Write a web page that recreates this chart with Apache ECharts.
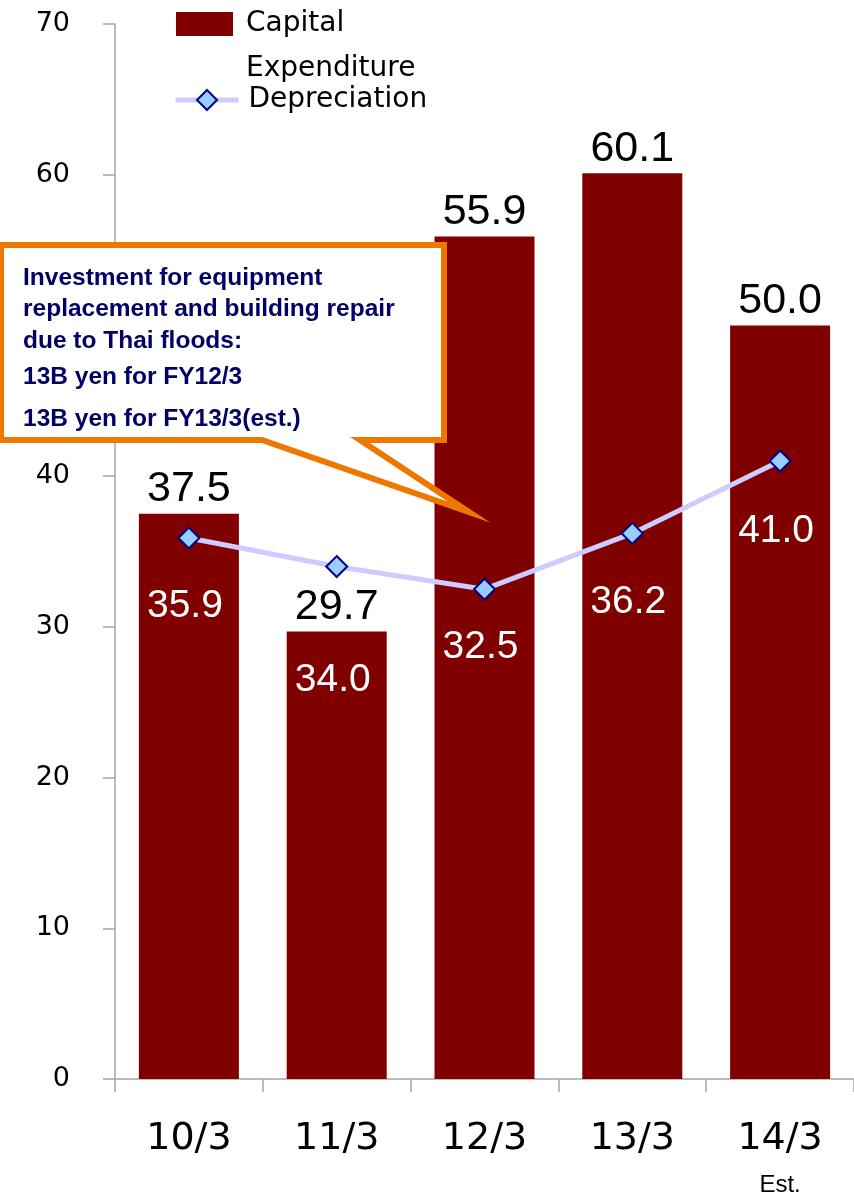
<!DOCTYPE html>
<html>
<head>
<meta charset="utf-8">
<script src="https://cdn.jsdelivr.net/npm/echarts@6/dist/echarts.min.js"></script>
<style>
html,body{margin:0;padding:0;background:#fff;}
#chart{width:854px;height:1197px;}
</style>
</head>
<body>
<div id="chart"></div>
<script>
// ---- data ----
const categories = ['10/3', '11/3', '12/3', '13/3', '14/3'];
const categoryNotes = ['', '', '', '', 'Est.'];
const capitalExpenditure = [37.5, 29.7, 55.9, 60.1, 50.0];
const depreciation = [35.9, 34.0, 32.5, 36.2, 41.0];
const yTicks = { min: 0, max: 70, interval: 10 };
const seriesNames = ['Capital Expenditure', 'Depreciation'];
const legendLabels = ['Capital\nExpenditure', 'Depreciation'];
const calloutLines = [
  'Investment for equipment',
  'replacement and building repair',
  'due to Thai floods:',
  '13B yen for FY12/3',
  '13B yen for FY13/3(est.)'
];

// ---- styling (not data) ----
const deprLabelOffsetY = [68, 114, 58, 69, 70];

const chart = echarts.init(document.getElementById('chart'), null, { renderer: 'canvas' });

const option = {
  backgroundColor: '#ffffff',
  animation: false,
  grid: { left: 115, right: -6, top: 24, bottom: 118 },
  legend: [
    {
      data: [seriesNames[0]],
      left: 176,
      top: -43.5,
      padding: 0,
      icon: 'rect',
      itemWidth: 57,
      itemHeight: 24,
      formatter: function () { return '\n' + legendLabels[0]; },
      textStyle: {
        fontFamily: 'DejaVu Sans',
        fontSize: 28,
        color: '#000',
        lineHeight: 45,
        padding: [0, 0, 0, 8]
      },
      selectedMode: false
    },
    {
      data: [seriesNames[1]],
      left: 173,
      top: 86,
      padding: 0,
      itemWidth: 63,
      itemHeight: 25,
      lineStyle: { width: 5 },
      formatter: function () { return legendLabels[1]; },
      textStyle: {
        fontFamily: 'DejaVu Sans',
        fontSize: 28,
        color: '#000',
        padding: [0, 0, 0, 5]
      },
      selectedMode: false
    }
  ],
  xAxis: {
    type: 'category',
    data: categories,
    boundaryGap: true,
    axisLine: { show: true, lineStyle: { color: '#a6a6a6', width: 1.5 } },
    axisTick: { show: true, length: 13, inside: false, lineStyle: { color: '#a6a6a6', width: 1.5 } },
    axisLabel: {
      margin: 38,
      interval: 0,
      formatter: function (value, idx) {
        const note = categoryNotes[idx];
        return note ? '{a|' + value + '}\n{b|' + note + '}' : '{a|' + value + '}';
      },
      rich: {
        a: { fontFamily: 'DejaVu Sans', fontSize: 38, lineHeight: 44, color: '#000' },
        b: { fontFamily: 'Liberation Sans', fontSize: 24, lineHeight: 48, color: '#000' }
      }
    },
    splitLine: { show: false }
  },
  yAxis: {
    type: 'value',
    min: yTicks.min,
    max: yTicks.max,
    interval: yTicks.interval,
    axisLine: { show: true, lineStyle: { color: '#a6a6a6', width: 1.5 } },
    axisTick: { show: true, length: 12, inside: false, lineStyle: { color: '#a6a6a6', width: 1.5 } },
    axisLabel: { margin: 45, fontFamily: 'DejaVu Sans', fontSize: 27, color: '#000' },
    splitLine: { show: false }
  },
  series: [
    {
      name: seriesNames[0],
      type: 'bar',
      data: capitalExpenditure,
      barWidth: 100,
      itemStyle: { color: '#800000' },
      label: {
        show: true,
        position: 'top',
        distance: 3,
        fontFamily: 'Liberation Sans',
        fontSize: 43,
        color: '#000',
        formatter: function (p) { return p.value.toFixed(1); }
      },
      z: 2
    },
    {
      name: seriesNames[1],
      type: 'line',
      data: depreciation.map(function (v, i) {
        return { value: v, label: { offset: [-4, deprLabelOffsetY[i]] } };
      }),
      symbol: 'diamond',
      symbolSize: 21,
      lineStyle: { color: '#ccccff', width: 5 },
      itemStyle: { color: '#99ccff', borderColor: '#000080', borderWidth: 2 },
      label: {
        show: true,
        position: 'inside',
        fontFamily: 'Liberation Sans',
        fontSize: 39,
        color: '#ffffff',
        formatter: function (p) { return p.value.toFixed(1); }
      },
      z: 3
    }
  ],
  graphic: [
    {
      type: 'polygon',
      z: 100,
      shape: {
        points: [[1, 245], [444, 245], [444, 440], [360, 440], [469, 512], [262, 440], [1, 440]]
      },
      style: { fill: '#ffffff', stroke: '#ee7700', lineWidth: 6, lineJoin: 'miter', miterLimit: 20 }
    },
    {
      type: 'text',
      z: 101,
      x: 23,
      y: 262,
      style: {
        text: calloutLines.map(function (t, i) { return (i < 3 ? '{p|' : '{q|') + t + '}'; }).join('\n'),
        fill: '#000066',
        rich: {
          p: { fontFamily: 'Liberation Sans', fontWeight: 'bold', fontSize: 24.5, lineHeight: 31.5, fill: '#000066' },
          q: { fontFamily: 'Liberation Sans', fontWeight: 'bold', fontSize: 24.5, lineHeight: 42, fill: '#000066' }
        }
      }
    }
  ]
};

chart.setOption(option);
</script>
</body>
</html>
